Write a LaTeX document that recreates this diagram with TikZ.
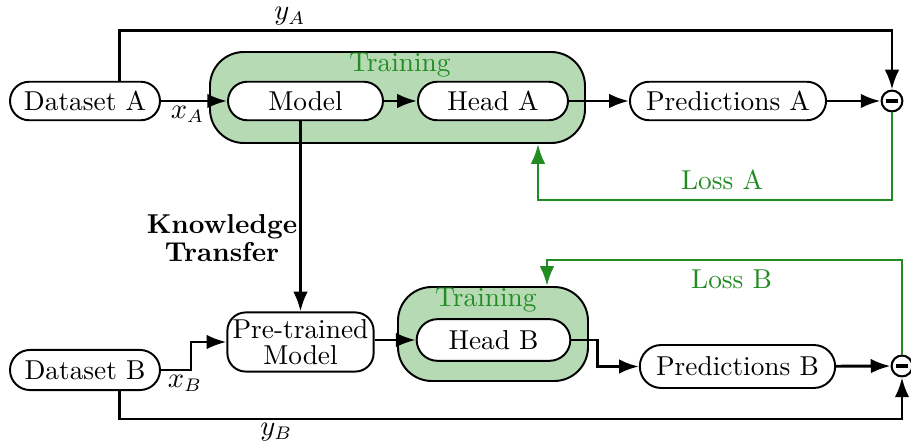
\documentclass[tikz,border=0pt]{standalone}
\usetikzlibrary{arrows.meta,fit}
\definecolor{lossgreen}{RGB}{34,139,34}
\definecolor{trainfill}{RGB}{182,218,180}
\tikzset{
  >={Latex[length=7.6pt,width=5.6pt]},
}
\tikzstyle{block}=[draw,line width=.75pt,rounded corners=7.4pt,fill=white,minimum height=14.8pt,minimum width=57.6pt]
\tikzstyle{ptbox}=[draw,line width=.75pt,rounded corners=7pt,fill=white,minimum height=22.7pt,minimum width=55.7pt,align=center,inner sep=2pt]
\tikzstyle{train}=[draw,line width=.75pt,fill=trainfill,rounded corners=13pt,inner sep=0pt]
\tikzstyle{trainlabel}=[lossgreen]
\tikzstyle{minus}=[draw,line width=.8pt,circle,fill=white,inner sep=0pt,minimum size=8pt]
\tikzstyle{link}=[line width=1.1pt,->]
\tikzstyle{loss}=[link,lossgreen]
\tikzstyle{every node}=[font=\fontsize{10.5}{12.6}\selectfont]

\begin{document}
\begin{tikzpicture}[x=3.84pt,y=-3.84pt]
    \useasboundingbox (0,0) rectangle (91.1,44.1);
    % training boxes
    \node[train,fit={(21.0,5.2) (58.5,14.3)}] (trainA) {};
    \node[train,fit={(39.8,28.7) (58.8,38.1)}] (trainB) {};
    \node[trainlabel] (trainlabA) at (40.0,6.5) {Training};
    \node[trainlabel] (trainlabB) at (48.6,30.0) {Training};
    % task A
    \node[block] (dsA) at (8.5,10.1) {Dataset A};
    \node[block,minimum width=59.5pt] (model) at (30.55,10.1) {Model};
    \node[block] (headA) at (49.3,10.1) {Head A};
    \node[block,minimum width=75.3pt] (predA) at (72.8,10.1) {Predictions A};
    \node[minus] (minA) at (89.2,10.1) {\rule{4.6pt}{1.2pt}};
    % task B
    \node[block,minimum height=15.4pt,rounded corners=7.7pt] (dsB) at (8.5,37.0) {Dataset B};
    \node[ptbox] (ptm) at (30.05,34.2) {Pre-trained\\[-2.5pt]Model};
    \node[block,minimum width=59pt,minimum height=16pt,rounded corners=8pt] (headB) at (49.35,34.0) {Head B};
    \node[block,minimum width=75pt,minimum height=16.5pt,rounded corners=8.2pt] (predB) at (73.75,36.65) {Predictions B};
    \node[minus] (minB) at (90.2,36.6) {\rule{4.6pt}{1.2pt}};
    \node[font=\fontsize{10.5}{12.6}\selectfont\bfseries,align=center] (kt) at (22.2,23.8) {Knowledge\\[-1.6pt]Transfer};

    \draw[link] (dsA) -- node[below,pos=.4,inner sep=1.5pt]{$x_A$} (model);
    \draw[link] (model) -- (headA);
    \draw[link] (headA) -- (predA);
    \draw[link] (predA) -- (minA);
    \draw[link] ([xshift=13.4pt]dsA.north) -- ++(0,-5.0) -| node[above,pos=.11,inner sep=1.5pt]{$y_A$} (minA.north);
    \draw[link] (ptm.north |- model.south) -- (ptm.north);

    \draw[link] (dsB.east) -- node[below,pos=.8,inner sep=1.5pt]{$x_B$} ++(3.0,0) |- (ptm.west);
    \draw[link] (ptm.east |- headB) -- (headB.west);
    \draw[link] (headB.east) -- ++(2.6,0) |- (predB.west);
    \draw[link] (predB) -- (minB);
    \draw[link] ([xshift=13.4pt]dsB.south) -- ++(0,2.8) -| node[below,pos=.1,inner sep=1pt]{$y_B$} (minB.south);

    % losses
    \coordinate (lossA) at (53.8,20.0);
    \coordinate (lossB) at (54.7,26.0);
    \draw[loss] (minA.south) |- node[above,pos=.74]{Loss A} (lossA) -- (lossA |- trainA.south);
    \draw[loss] (minB.north) |- node[below,pos=.74]{Loss B} (lossB) -- (lossB |- trainB.north);
\end{tikzpicture}
\end{document}
